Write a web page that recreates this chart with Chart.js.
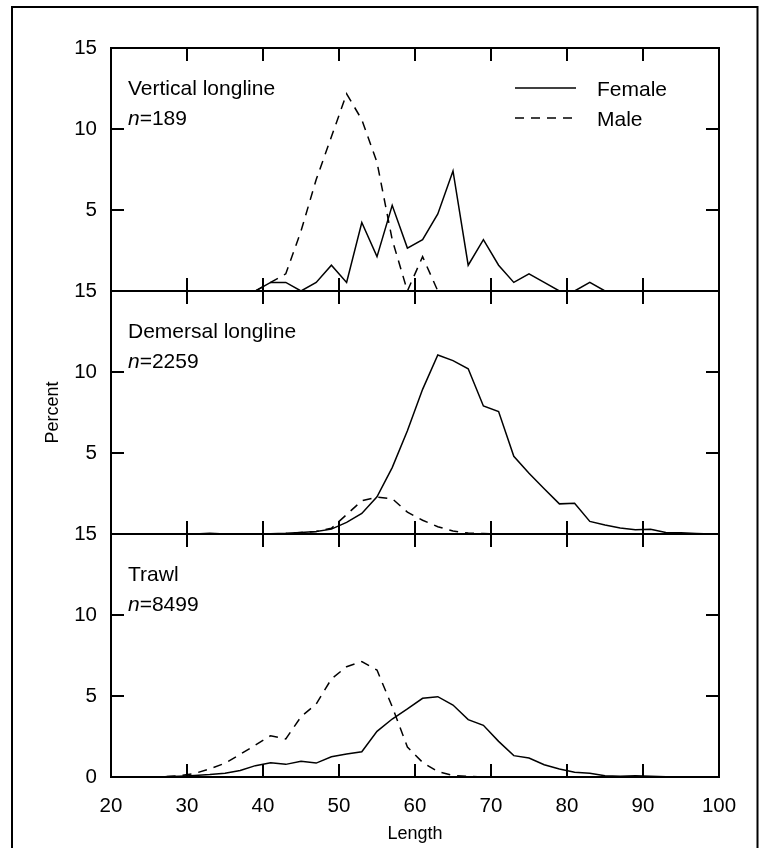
<!DOCTYPE html>
<html lang="en">
<head>
    <meta charset="UTF-8">
    <title>Length frequency by gear</title>
    <script src="https://cdn.jsdelivr.net/npm/chart.js"></script>
    <style>
        body { margin: 0; background: #fff; }
        #wrap { position: relative; width: 762px; height: 848px; }
    </style>
</head>
<body>
    <div id="wrap"><canvas id="myChart"></canvas></div>

    <script>
        // length bins (midpoints, cm)
        const lengths = [21,23,25,27,29,31,33,35,37,39,41,43,45,47,49,51,53,55,57,59,
                         61,63,65,67,69,71,73,75,77,79,81,83,85,87,89,91,93,95,97,99];

        const panelNames = ['Vertical longline', 'Demersal longline', 'Trawl'];
        const sampleSizes = [189, 2259, 8499];

        // percent
        const verticalFemale = [null,null,null,null,null,null,null,null,0,0,0.53,0.53,0,0.53,1.59,0.53,4.23,2.12,5.29,2.65,
                                3.17,4.76,7.41,1.59,3.17,1.59,0.53,1.06,0.53,0,0,0.53,0,0,0,0,null,null,null,null];
        const verticalMale   = [null,null,null,null,null,null,null,null,0,0,0.53,1.06,3.70,6.88,9.52,12.17,10.58,7.94,3.17,0,
                                2.12,0,0,0,0,0,0,0,0,0,0,0,0,0,0,0,null,null,null,null];

        const demersalFemale = [null,0,0,0,0,0,0.05,0,0,0,0.02,0.04,0.1,0.15,0.3,0.72,1.27,2.3,4.1,6.37,
                                8.93,11.05,10.7,10.2,7.9,7.56,4.8,3.75,2.79,1.86,1.9,0.78,0.55,0.37,0.27,0.29,0.1,0.08,0.03,0];
        const demersalMale   = [null,0,0,0,0,0,0,0,0,0,0,0.03,0.1,0.15,0.35,1.2,2.05,2.28,2.18,1.35,
                                0.85,0.45,0.18,0.06,0.03,0,0,0,0,0,0,0,0,0,0,0,0,0,0,0];

        const trawlFemale = [0,0,0,0.02,0.05,0.1,0.15,0.23,0.4,0.7,0.88,0.78,0.97,0.86,1.25,1.42,1.56,2.82,3.58,4.2,
                             4.86,4.96,4.44,3.54,3.19,2.2,1.32,1.17,0.76,0.49,0.29,0.23,0.08,0.04,0.08,0.04,0.01,0,0,0];
        const trawlMale   = [0,0,0,0.03,0.08,0.22,0.5,0.85,1.4,1.97,2.55,2.35,3.72,4.5,6.05,6.81,7.12,6.6,4.34,1.85,
                             0.9,0.33,0.1,0.04,0,0,0,0,0,0,0,0,0,0,0,0,0,0,0,0];

        const xTicks = [20,30,40,50,60,70,80,90,100];
        const yTicks = [0,5,10,15];

        const FONT = '"Liberation Sans", Arial, Helvetica, sans-serif';
        Chart.defaults.font.family = FONT;
        Chart.defaults.color = '#000';

        const toPoints = arr => arr.map((v, i) => ({x: lengths[i], y: v}));

        const lineSet = (label, arr, axis, dashed) => ({
            label: label,
            data: toPoints(arr),
            yAxisID: axis,
            borderColor: '#000',
            borderWidth: 1.5,
            borderDash: dashed ? [9, 7] : [],
            pointRadius: 0,
            tension: 0,
            fill: false,
            spanGaps: false,
        });

        const yScale = (weight, showZero, title) => ({
            type: 'linear',
            position: 'left',
            stack: 'panels',
            stackWeight: 1,
            weight: weight,
            min: 0,
            max: 15,
            afterBuildTicks: s => { s.ticks = yTicks.map(v => ({value: v})); },
            afterFit: s => { s.width = 99; },
            ticks: {
                padding: 14,
                font: {size: 20.5},
                callback: v => (v === 0 && !showZero) ? '' : v,
            },
            grid: {display: false, drawTicks: false},
            border: {display: false},
            title: {
                display: !!title,
                text: title || '',
                font: {size: 18},
                padding: {top: 30, bottom: 0},
            },
        });

        // frames, inward ticks, panel labels and legend
        const panelDecor = {
            id: 'panelDecor',
            afterDraw(chart) {
                const ctx = chart.ctx;
                const area = chart.chartArea;
                const xs = chart.scales.x;
                const panels = ['y1', 'y2', 'y3'].map(id => chart.scales[id]);
                const tl = 13;

                ctx.save();
                ctx.strokeStyle = '#000';
                ctx.fillStyle = '#000';

                // outer frame
                ctx.lineWidth = 2;
                ctx.beginPath();
                ctx.moveTo(12, 852);
                ctx.lineTo(12, 7);
                ctx.lineTo(757.5, 7);
                ctx.lineTo(757.5, 852);
                ctx.stroke();

                panels.forEach((ys, k) => {
                    ctx.lineWidth = 2;
                    ctx.strokeRect(area.left, ys.top, area.right - area.left, ys.bottom - ys.top);

                    ctx.beginPath();
                    xTicks.slice(1, -1).forEach(v => {
                        const px = xs.getPixelForValue(v);
                        ctx.moveTo(px, ys.top); ctx.lineTo(px, ys.top + tl);
                        ctx.moveTo(px, ys.bottom); ctx.lineTo(px, ys.bottom - tl);
                    });
                    yTicks.slice(1, -1).forEach(v => {
                        const py = ys.getPixelForValue(v);
                        ctx.moveTo(area.left, py); ctx.lineTo(area.left + tl, py);
                        ctx.moveTo(area.right, py); ctx.lineTo(area.right - tl, py);
                    });
                    ctx.stroke();

                    // panel label + sample size
                    const lx = area.left + 17;
                    ctx.textAlign = 'left';
                    ctx.textBaseline = 'alphabetic';
                    ctx.font = '21px ' + FONT;
                    ctx.fillText(panelNames[k], lx, ys.top + 47);
                    ctx.font = 'italic 21px ' + FONT;
                    ctx.fillText('n', lx, ys.top + 77);
                    const nw = ctx.measureText('n').width;
                    ctx.font = '21px ' + FONT;
                    ctx.fillText('=' + sampleSizes[k], lx + nw, ys.top + 77);
                });

                // legend in top panel
                const items = chart.data.datasets.slice(0, 2);
                items.forEach((ds, i) => {
                    const y = 88 + i * 30;
                    ctx.lineWidth = ds.borderWidth;
                    ctx.setLineDash(ds.borderDash);
                    ctx.beginPath();
                    ctx.moveTo(515, y);
                    ctx.lineTo(576, y);
                    ctx.stroke();
                    ctx.setLineDash([]);
                    ctx.font = '21px ' + FONT;
                    ctx.fillText(ds.label, 597, y + 8);
                });
                ctx.restore();
            }
        };

        const ctx = document.querySelector('#myChart').getContext('2d');
        const myChart = new Chart(ctx, {
            type: 'line',
            data: {
                datasets: [
                    lineSet('Female', verticalFemale, 'y1', false),
                    lineSet('Male', verticalMale, 'y1', true),
                    lineSet('Female', demersalFemale, 'y2', false),
                    lineSet('Male', demersalMale, 'y2', true),
                    lineSet('Female', trawlFemale, 'y3', false),
                    lineSet('Male', trawlMale, 'y3', true),
                ]
            },
            options: {
                responsive: true,
                maintainAspectRatio: false,
                animation: false,
                layout: {padding: {left: 12, right: 43, top: 48, bottom: 0}},
                plugins: {
                    legend: {display: false},
                    tooltip: {enabled: false},
                },
                scales: {
                    x: {
                        type: 'linear',
                        min: 20,
                        max: 100,
                        afterBuildTicks: s => { s.ticks = xTicks.map(v => ({value: v})); },
                        afterFit: s => { s.height = 71; },
                        ticks: {padding: 17, font: {size: 20.5}, maxRotation: 0},
                        grid: {display: false, drawTicks: false},
                        border: {display: false},
                        title: {display: true, text: 'Length', font: {size: 18}, padding: {top: 0, bottom: 3}},
                    },
                    y1: yScale(3, false, null),
                    y2: yScale(2, false, 'Percent'),
                    y3: yScale(1, true, null),
                }
            },
            plugins: [panelDecor]
        });
    </script>
</body>
</html>
